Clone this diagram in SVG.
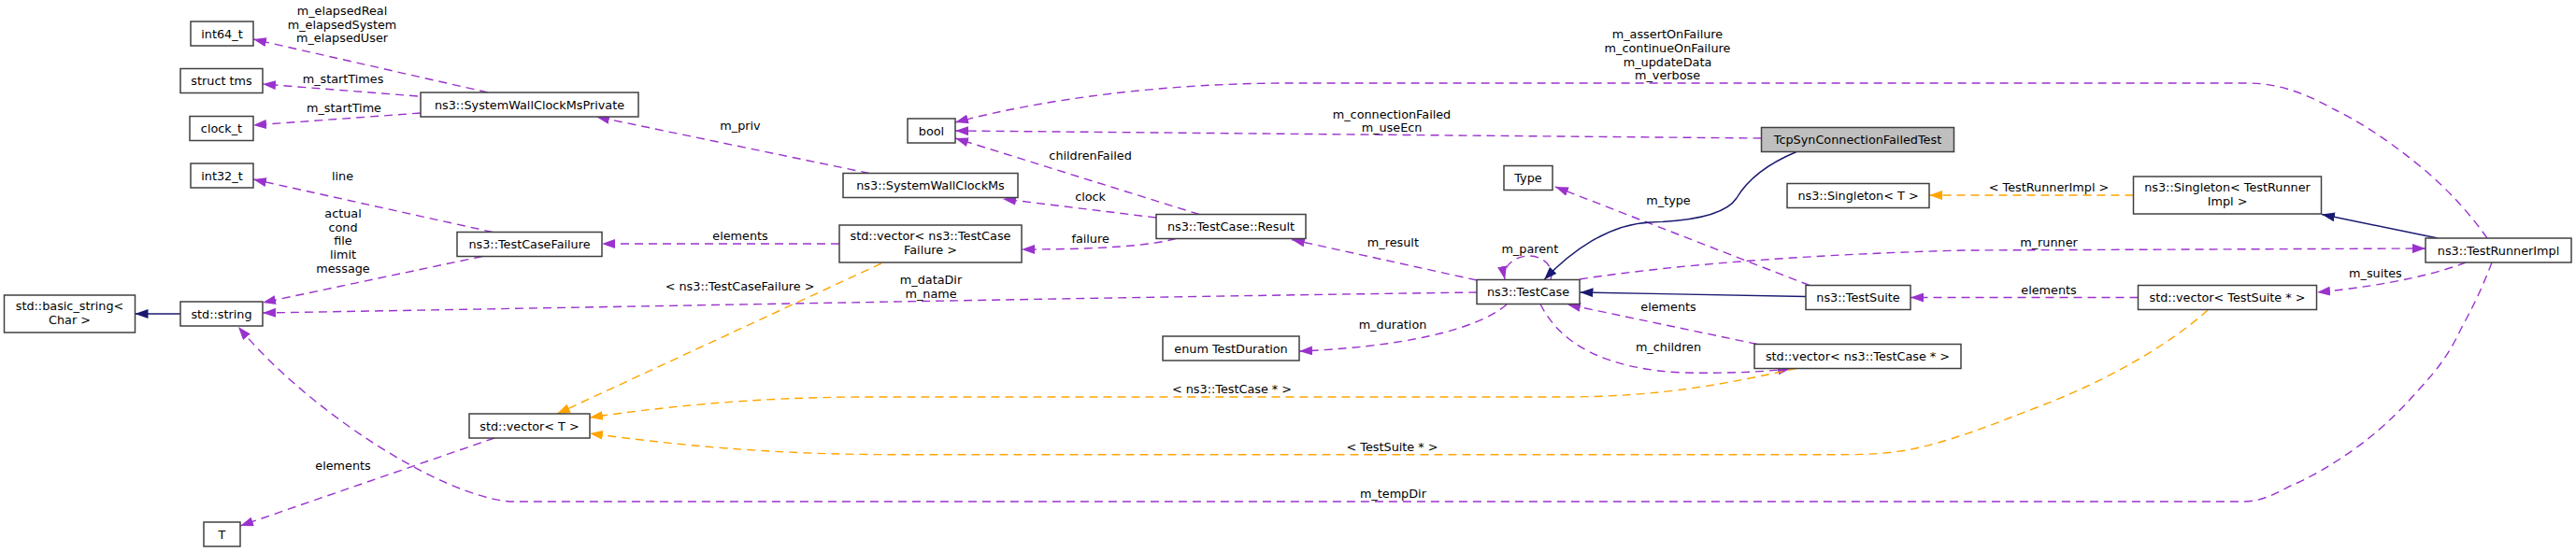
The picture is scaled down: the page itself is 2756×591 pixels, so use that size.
<svg xmlns="http://www.w3.org/2000/svg" width="2756" height="591" viewBox="0 0 2756 591">
<style>
text{font-family:"DejaVu Sans","Liberation Sans",sans-serif;font-size:12.8px;fill:#000;text-anchor:middle}
.box{fill:#fff;stroke:#404040;stroke-width:1.5}
.main{fill:#bfbfbf;stroke:#404040;stroke-width:1.5}
.u{fill:none;stroke:#9a32cd;stroke-width:1.4;stroke-dasharray:9,6;marker-end:url(#ap)}
.t{fill:none;stroke:#ffa500;stroke-width:1.4;stroke-dasharray:9,6;marker-end:url(#ao)}
.i{fill:none;stroke:#191970;stroke-width:1.4;marker-end:url(#an)}
</style>
<defs>
<marker id="ap" markerUnits="userSpaceOnUse" markerWidth="14" markerHeight="10" refX="14" refY="5" orient="auto"><path d="M0,0 L14,5 L0,10 z" fill="#9a32cd"/></marker>
<marker id="ao" markerUnits="userSpaceOnUse" markerWidth="14" markerHeight="10" refX="14" refY="5" orient="auto"><path d="M0,0 L14,5 L0,10 z" fill="#ffa500"/></marker>
<marker id="an" markerUnits="userSpaceOnUse" markerWidth="14" markerHeight="10" refX="14" refY="5" orient="auto"><path d="M0,0 L14,5 L0,10 z" fill="#191970"/></marker>
</defs>
<rect width="2756" height="591" fill="#fff"/>

<g id="edges">
<g><path class="u" d="M522,99 L271,42"/><text x="366" y="16.2">m_elapsedReal</text><text x="366" y="31.2">m_elapsedSystem</text><text x="366" y="45.2">m_elapsedUser</text></g>
<g><path class="u" d="M447,103 L281,90"/><text x="367" y="89.2">m_startTimes</text></g>
<g><path class="u" d="M450,121 L271,134"/><text x="368" y="120.2">m_startTime</text></g>
<g><path class="u" d="M930,185.5 L638,125"/><text x="792" y="139.2">m_priv</text></g>
<g><path class="u" d="M527,248.5 L271,192"/><text x="366.5" y="192.8">line</text></g>
<g><path class="u" d="M516,274.5 L281,324"/><text x="367" y="233.2">actual</text><text x="367" y="247.8">cond</text><text x="367" y="262.2">file</text><text x="367" y="276.8">limit</text><text x="367" y="291.8">message</text></g>
<g><path class="u" d="M898,261 L644,261"/><text x="792" y="256.8">elements</text></g>
<g><path class="u" d="M1283,229.5 L1022,148"/><text x="1166.6" y="170.5">childrenFailed</text></g>
<g><path class="u" d="M1237,233 L1073,213"/><text x="1166.6" y="214.8">clock</text></g>
<g><path class="u" d="M1258,255.5 C1230,263 1180,267 1093,267"/><text x="1166.6" y="259.8">failure</text></g>
<g><path class="u" d="M1884.5,148 L1022,140"/><text x="1489" y="126.8">m_connectionFailed</text><text x="1489" y="141.2">m_useEcn</text></g>
<g><path class="u" d="M2661,255 C2645,232 2620,203 2588,177 C2550,146 2520,128 2497,117 C2470,102 2440,89 2405,89 L1380,89 C1250,89 1120,105 1022,131"/><text x="1784" y="40.5">m_assertOnFailure</text><text x="1784" y="56.2">m_continueOnFailure</text><text x="1784" y="71.2">m_updateData</text><text x="1784" y="84.8">m_verbose</text></g>
<g><path class="u" d="M1580,300 L1382,256.5"/><text x="1490.4" y="263.5">m_result</text></g>
<g><path class="u" d="M1936,305.5 L1664,200"/><text x="1785" y="219.2">m_type</text></g>
<g><path class="u" d="M1659,299.5 C1664,285 1650,274 1636,274 C1620,274 1607,285 1610,299"/><text x="1636.8" y="271.2">m_parent</text></g>
<g><path class="u" d="M1690,299 C1800,282 1950,272 2100,268 L2595,266"/><text x="2192" y="263.8">m_runner</text></g>
<g><path class="u" d="M1580,313 C1200,318 700,328 281,335"/><text x="996" y="303.8">m_dataDir</text><text x="996" y="318.8">m_name</text></g>
<g><path class="u" d="M1612,326 C1590,345 1530,370 1390,376"/><text x="1490" y="351.8">m_duration</text></g>
<g><path class="u" d="M1880,368.5 L1677,326"/><text x="1785" y="332.8">elements</text></g>
<g><path class="u" d="M1648,325.5 C1670,370 1720,395 1800,399 C1850,400 1890,398 1916,394.5"/><text x="1785" y="375.5">m_children</text></g>
<g><path class="u" d="M529,469 L257,563"/><text x="367" y="503.2">elements</text></g>
<g><path class="u" d="M2666,281 C2655,310 2645,330 2634,350 C2620,380 2608,395 2588,417 C2565,443 2545,462 2520,480 C2495,498 2470,512 2451,520 C2435,528 2420,537 2400,537 L545,537 C470,530 330,440 255,350"/><text x="1490.4" y="532.8">m_tempDir</text></g>
<g><path class="u" d="M2638,281 C2610,292 2560,305 2479,313"/><text x="2541.4" y="297.2">m_suites</text></g>
<g><path class="u" d="M2287.5,318.5 L2044,318.5"/><text x="2192" y="315.2">elements</text></g>
<g><path class="t" d="M943,282 L596,443"/><text x="791.6" y="310.5">&lt; ns3::TestCaseFailure &gt;</text></g>
<g><path class="t" d="M1922,394.5 C1850,410 1780,425 1672,425 L930,425 C800,425 700,437 631,447"/><text x="1318" y="421.2">&lt; ns3::TestCase * &gt;</text></g>
<g><path class="t" d="M2362,332 C2320,370 2250,410 2177,437 C2130,455 2090,472 2040,482 C2010,486.7 1990,486.7 1960,486.7 L957,486.7 C820,486.7 720,476 631,464"/><text x="1489.5" y="482.8">&lt; TestSuite * &gt;</text></g>
<g><path class="t" d="M2282.5,209 L2064,209"/><text x="2192" y="204.8">&lt; TestRunnerImpl &gt;</text></g>
<g><path class="i" d="M193,336 L144.5,336"/></g>
<g><path class="i" d="M1922,162.5 C1885,178 1868,195 1858,212 C1845,232 1800,237 1766,238 C1720,240 1680,270 1652,299.5"/></g>
<g><path class="i" d="M1932,317.5 L1690.5,313"/></g>
<g><path class="i" d="M2608,255 L2484,229.5"/></g>
</g>

<g id="node-int64_t"><rect class="box" x="204" y="23" width="67" height="26"/><text x="237.5" y="40.5">int64_t</text></g>
<g id="node-struct-tms"><rect class="box" x="193" y="73.5" width="88" height="26"/><text x="237" y="91">struct tms</text></g>
<g id="node-clock_t"><rect class="box" x="203" y="124.5" width="68" height="26"/><text x="237" y="142">clock_t</text></g>
<g id="node-int32_t"><rect class="box" x="204" y="175" width="67" height="26"/><text x="237.5" y="192.5">int32_t</text></g>
<g id="node-SystemWallClockMsPrivate"><rect class="box" x="450" y="99" width="233" height="26"/><text x="566.5" y="116.5">ns3::SystemWallClockMsPrivate</text></g>
<g id="node-TestCaseFailure"><rect class="box" x="489" y="248.5" width="155" height="26"/><text x="566.5" y="266">ns3::TestCaseFailure</text></g>
<g id="node-basic_string"><rect class="box" x="4.5" y="316" width="140" height="40"/><text x="74.5" y="332">std::basic_string&lt;</text><text x="74.5" y="346.8">Char &gt;</text></g>
<g id="node-string"><rect class="box" x="193" y="323" width="88" height="26"/><text x="237" y="340.5">std::string</text></g>
<g id="node-vector-T"><rect class="box" x="502" y="443" width="129" height="26"/><text x="566.5" y="460.5">std::vector&lt; T &gt;</text></g>
<g id="node-T"><rect class="box" x="218" y="559" width="39" height="26"/><text x="237.5" y="576.5">T</text></g>
<g id="node-bool"><rect class="box" x="971" y="127" width="51" height="26"/><text x="996.5" y="144.5">bool</text></g>
<g id="node-SystemWallClockMs"><rect class="box" x="902" y="185.5" width="187" height="26"/><text x="995.5" y="203">ns3::SystemWallClockMs</text></g>
<g id="node-vector-TestCaseFailure"><rect class="box" x="898" y="241" width="195" height="40"/><text x="995.5" y="257">std::vector&lt; ns3::TestCase</text><text x="995.5" y="271.8">Failure &gt;</text></g>
<g id="node-TestCase-Result"><rect class="box" x="1237" y="229.5" width="160" height="26"/><text x="1317" y="247">ns3::TestCase::Result</text></g>
<g id="node-TestDuration"><rect class="box" x="1244" y="360" width="146" height="26"/><text x="1317" y="377.5">enum TestDuration</text></g>
<g id="node-TcpSynConnectionFailedTest"><rect class="main" x="1884.5" y="136.5" width="206" height="26"/><text x="1987.5" y="154">TcpSynConnectionFailedTest</text></g>
<g id="node-Type"><rect class="box" x="1609" y="177.5" width="52" height="26"/><text x="1635" y="195">Type</text></g>
<g id="node-Singleton-T"><rect class="box" x="1912" y="196.5" width="152" height="26"/><text x="1988" y="214">ns3::Singleton&lt; T &gt;</text></g>
<g id="node-TestCase"><rect class="box" x="1580" y="299.5" width="110" height="26"/><text x="1635" y="317">ns3::TestCase</text></g>
<g id="node-TestSuite"><rect class="box" x="1932" y="305.5" width="112" height="26"/><text x="1988" y="323">ns3::TestSuite</text></g>
<g id="node-vector-TestCase"><rect class="box" x="1877" y="368.5" width="221" height="26"/><text x="1987.5" y="386">std::vector&lt; ns3::TestCase * &gt;</text></g>
<g id="node-Singleton-TestRunnerImpl"><rect class="box" x="2282.5" y="189" width="201" height="40"/><text x="2383" y="204.8">ns3::Singleton&lt; TestRunner</text><text x="2383" y="219.8">Impl &gt;</text></g>
<g id="node-TestRunnerImpl"><rect class="box" x="2595" y="255" width="156" height="26"/><text x="2673" y="272.5">ns3::TestRunnerImpl</text></g>
<g id="node-vector-TestSuite"><rect class="box" x="2287.5" y="305.5" width="191" height="26"/><text x="2383" y="323">std::vector&lt; TestSuite * &gt;</text></g>
</svg>
